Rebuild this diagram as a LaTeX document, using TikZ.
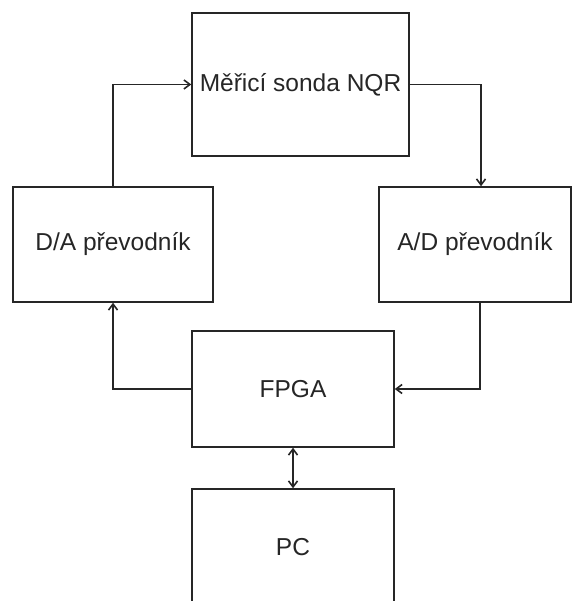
\documentclass[tikz,border=0pt]{standalone}
\usepackage{fontspec}
\setmainfont{Liberation Sans}
\usetikzlibrary{arrows.meta,calc}
\begin{document}
\begin{tikzpicture}[x=1pt,y=-1pt,
  blk/.style={draw=black!85,line width=1.5pt,inner sep=0pt,font=\fontsize{24.5}{29}\selectfont,text=black!85},
  tip/.style={Straight Barb[length=6pt,width=9pt,line width=1.6pt]},
  arr/.style={draw=black!85,line width=1.5pt,-{Straight Barb[length=6pt,width=9pt,line width=1.6pt]}},
  darr/.style={draw=black!85,line width=1.5pt,{Straight Barb[length=6pt,width=9pt,line width=1.6pt]}-{Straight Barb[length=6pt,width=9pt,line width=1.6pt]}}]
\useasboundingbox (0,0) rectangle (573,601);
\node[blk,minimum width=217pt,minimum height=143pt] (top) at (300.5,84.5) {Měřicí sonda NQR};
\node[blk,minimum width=200pt,minimum height=115pt] (da) at (113,244.5) {D/A převodník};
\node[blk,minimum width=192pt,minimum height=115pt] (ad) at (475,244.5) {A/D převodník};
\node[blk,minimum width=202pt,minimum height=116pt] (fpga) at (293,389) {FPGA};
\node[blk,minimum width=202pt,minimum height=116pt] (pc) at (293,547) {PC};
\draw[arr] (da.north) |- (top.west);
\draw[arr] (top.east) -| ([xshift=6pt]ad.north);
\draw[arr] ([xshift=5pt]ad.south) |- (fpga.east);
\draw[arr] (fpga.west) -| (da.south);
\draw[darr] (fpga.south) -- (pc.north);
\end{tikzpicture}
\end{document}
